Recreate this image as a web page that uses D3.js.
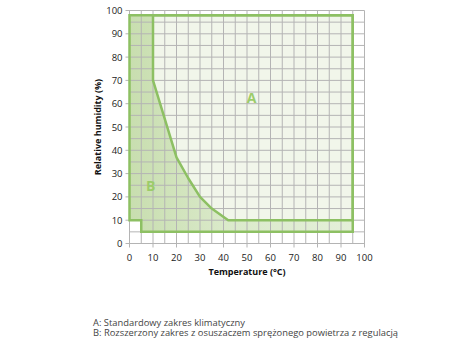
<!DOCTYPE html>
<html>
<head>
<meta charset="utf-8">
<script src="https://cdn.jsdelivr.net/npm/d3@7"></script>
<style>
  body { margin: 0; background: #fff; }
  text { font-family: "Open Sans", sans-serif; }
</style>
</head>
<body>
<div id="chart"></div>
<script>
(function() {

const w = 470;
const h = 360;

// data
const tempTicks = [0, 10, 20, 30, 40, 50, 60, 70, 80, 90, 100];
const rhTicks = [0, 10, 20, 30, 40, 50, 60, 70, 80, 90, 100];
// zone A: standard climatic range (temperature, humidity)
const zoneA_T = [10, 95, 95, 42, 35, 30, 25, 20, 10];
const zoneA_RH = [98, 98, 10, 10, 15, 20, 28, 37, 70];
// outer boundary of extended range B
const outer_T = [0, 95, 95, 5, 5, 0];
const outer_RH = [98, 98, 5, 5, 10, 10];
const notes = [
    "A: Standardowy zakres klimatyczny",
    "B: Rozszerzony zakres z osuszaczem sprężonego powietrza z regulacją"
];
const noteWidths = [152, 305];

const left = 129.5, top = 10.5, pw = 235, ph = 233;

const x = d3.scaleLinear().domain([0, 100]).range([left, left + pw]);
const y = d3.scaleLinear().domain([0, 100]).range([top + ph, top]);

const svg = d3.select("#chart")
    .append("svg")
    .attr("width", w)
    .attr("height", h);

const defs = svg.append("defs");
const grad = defs.append("linearGradient")
    .attr("id", "bgrad")
    .attr("x1", 0).attr("y1", 0).attr("x2", 1).attr("y2", 0);
grad.append("stop").attr("offset", "0%").attr("stop-color", "#c8deaf");
grad.append("stop").attr("offset", "45%").attr("stop-color", "#dbeacb");
grad.append("stop").attr("offset", "100%").attr("stop-color", "#e4efd8");

const line = d3.line()
    .x(d => x(d[0]))
    .y(d => y(d[1]));

const outerPts = outer_T.map((t, i) => [t, outer_RH[i]]);
const aPts = zoneA_T.map((t, i) => [t, zoneA_RH[i]]);

// fills
svg.append("path")
    .attr("d", line(outerPts) + "Z")
    .attr("fill", "url(#bgrad)");

svg.append("path")
    .attr("d", line(aPts) + "Z")
    .attr("fill", "#f1f6ea");

// grid every 5
const gridVals = d3.range(0, 101, 5);
svg.append("g")
    .selectAll("line")
    .data(gridVals)
    .join("line")
    .attr("x1", d => x(d)).attr("x2", d => x(d))
    .attr("y1", y(100)).attr("y2", d => d % 10 === 0 ? y(0) + 4 : y(0))
    .attr("stroke", "#b4b4b4")
    .attr("stroke-width", 1);

svg.append("g")
    .selectAll("line")
    .data(gridVals)
    .join("line")
    .attr("y1", d => y(d)).attr("y2", d => y(d))
    .attr("x1", d => d % 10 === 0 ? x(0) - 4 : x(0)).attr("x2", x(100))
    .attr("stroke", "#b4b4b4")
    .attr("stroke-width", 1);

// boundaries
svg.append("path")
    .attr("d", line(outerPts) + "Z")
    .attr("fill", "none")
    .attr("stroke", "#8dc063")
    .attr("stroke-width", 2.5);

svg.append("path")
    .attr("d", line(aPts) + "Z")
    .attr("fill", "none")
    .attr("stroke", "#8dc063")
    .attr("stroke-width", 2.5)
    .attr("stroke-linejoin", "round");

// axes tick labels
svg.append("g")
    .selectAll("text")
    .data(tempTicks)
    .join("text")
    .attr("x", d => x(d))
    .attr("y", y(0) + 17)
    .attr("text-anchor", "middle")
    .attr("font-size", 9.5)
    .attr("fill", "#222")
    .text(d => d);

svg.append("g")
    .selectAll("text")
    .data(rhTicks)
    .join("text")
    .attr("x", x(0) - 7)
    .attr("y", d => y(d) + 3.5)
    .attr("text-anchor", "end")
    .attr("font-size", 9.5)
    .attr("fill", "#222")
    .text(d => d);

svg.append("text")
    .attr("x", x(50))
    .attr("y", y(0) + 31)
    .attr("text-anchor", "middle")
    .attr("font-size", 9)
    .attr("font-weight", "bold")
    .attr("fill", "#111")
    .text("Temperature (°C)");

svg.append("text")
    .attr("transform", "translate(" + (left - 29) + "," + y(50) + ") rotate(-90)")
    .attr("text-anchor", "middle")
    .attr("font-size", 9)
    .attr("font-weight", "bold")
    .attr("fill", "#111")
    .text("Relative humidity (%)");

// zone labels
svg.append("text")
    .attr("x", x(52))
    .attr("y", y(63) + 6)
    .attr("text-anchor", "middle")
    .attr("font-size", 14)
    .attr("font-weight", "bold")
    .attr("fill", "#9ccc6a")
    .text("A");

svg.append("text")
    .attr("x", x(9))
    .attr("y", y(25) + 6)
    .attr("text-anchor", "middle")
    .attr("font-size", 14)
    .attr("font-weight", "bold")
    .attr("fill", "#9ccc6a")
    .text("B");

// notes
svg.append("g")
    .selectAll("text")
    .data(notes)
    .join("text")
    .attr("x", 93)
    .attr("y", (d, i) => 325.5 + i * 10.8)
    .attr("font-size", 8.6)
    .attr("textLength", (d, i) => noteWidths[i])
    .attr("lengthAdjust", "spacingAndGlyphs")
    .attr("fill", "#444")
    .text(d => d);

})();
</script>
</body>
</html>
